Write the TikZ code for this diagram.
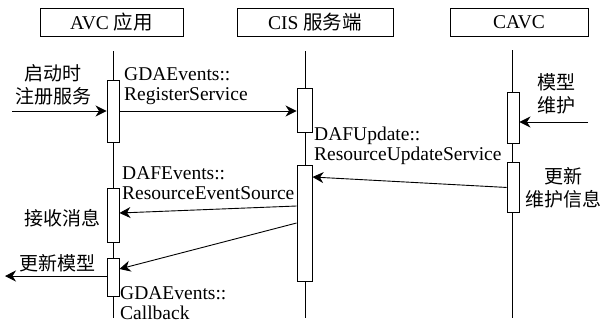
\documentclass[tikz,border=0pt]{standalone}
\usepackage{fontspec}
\setmainfont{Liberation Serif}
\newfontfamily\cjk{Noto Sans CJK SC}
\usetikzlibrary{arrows.meta}

\tikzset{
  hdr/.style={draw, line width=0.9pt, minimum height=28pt, inner sep=0pt,
              font=\fontsize{19.5}{20}\selectfont},
  lifeline/.style={line width=0.9pt},
  actbox/.style={draw, fill=white, line width=0.9pt, minimum width=12pt,
                 inner sep=0pt, anchor=north},
  msg/.style={line width=0.9pt,
              -{Stealth[length=11pt, width=11pt, inset=3.5pt]}},
  lbl/.style={inner sep=0pt, font=\fontsize{19.5}{20}\selectfont},
  lblc/.style={inner sep=0pt, align=center,
               font=\cjk\fontsize{19}{23}\selectfont},
}

\begin{document}
\begin{tikzpicture}[x=1pt, y=-1pt]
\useasboundingbox (0,0) rectangle (604,322);

% participant headers
\node[hdr, minimum width=143pt] (hA) at (111.5,22) {AVC {\cjk 应用}};
\node[hdr, minimum width=156pt] (hC) at (315,22) {CIS {\cjk 服务端}};
\node[hdr, minimum width=138pt] (hV) at (519,22) {CAVC};

% lifelines
\coordinate (avcTop) at (113,51);  \coordinate (avcBot) at (113,318);
\coordinate (cisTop) at (305,51);  \coordinate (cisBot) at (305,318);
\coordinate (cavTop) at (512,50);  \coordinate (cavBot) at (512,318);
\draw[lifeline] (avcTop) -- (avcBot);
\draw[lifeline] (cisTop) -- (cisBot);
\draw[lifeline] (cavTop) -- (cavBot);

% activation bars
\node[actbox, minimum height=62pt] (a1) at (113,80) {};
\node[actbox, minimum height=54pt] (a2) at (113,188) {};
\node[actbox, minimum height=38pt] (a3) at (113,258) {};
\node[actbox, minimum width=15pt, minimum height=44pt] (c1) at (304.5,88) {};
\node[actbox, minimum width=15pt, minimum height=116pt] (c2) at (304.5,165) {};
\node[actbox, minimum height=51pt] (v1) at (513,92) {};
\node[actbox, minimum height=50pt] (v2) at (513,162) {};

% free ends of the external messages
\coordinate (inA) at (12,111);
\coordinate (inV) at (588,122);
\coordinate (outA) at (5,276);

% messages
\draw[msg] (inA) -- (inA -| a1.west);
\draw[msg] (inA -| a1.east) -- (inA -| c1.west);
\draw[msg] (inV) -- (inV -| v1.east);
\draw[msg] (v2.west) -- ([yshift=-12pt]c2.north east);
\draw[msg] ([yshift=-41pt]c2.north west) -- ([yshift=-25pt]a2.north east);
\draw[msg] ([yshift=-58pt]c2.north west) -- ([yshift=-11pt]a3.north east);
\draw[msg] ([yshift=-18pt]a3.north west) -- (outA);

% labels
\node[lblc, anchor=north] (t1) at (53,64) {启动时\\注册服务};
\node[lbl, anchor=north west, align=left] (t2) at (124,67) {GDAEvents::\\RegisterService};
\node[lblc, anchor=north] (t3) at (556,73) {模型\\维护};
\node[lbl, anchor=north west, align=left] (t4) at (314,127) {DAFUpdate::\\ResourceUpdateService};
\node[lblc, anchor=north] (t5) at (563,167) {更新\\维护信息};
\node[lbl, anchor=north west, align=left] (t6) at (122,166) {DAFEvents::\\ResourceEventSource};
\node[lblc] (t7) at (62,218) {接收消息};
\node[lblc] (t8) at (57,263) {更新模型};
\node[lbl, anchor=north west, align=left] (t9) at (120,286) {GDAEvents::\\Callback};
\end{tikzpicture}
\end{document}
